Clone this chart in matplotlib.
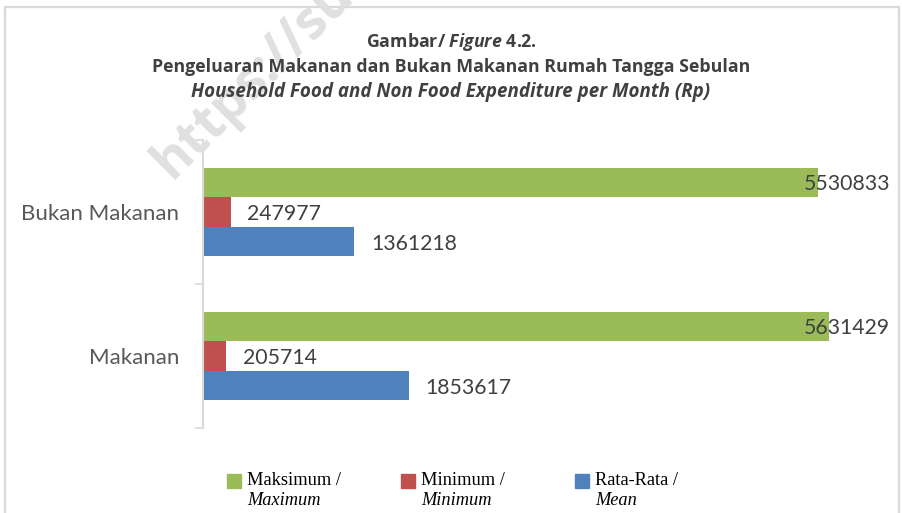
import matplotlib
matplotlib.use("Agg")
import matplotlib.pyplot as plt
import matplotlib.patches as patches
import numpy as np

categories = ["Makanan", "Bukan Makanan"]
series_names = ["Maksimum", "Minimum", "Rata-Rata"]
series_names_en = ["Maximum", "Minimum", "Mean"]
maksimum = [5631429, 5530833]
minimum = [205714, 247977]
rata_rata = [1853617, 1361218]
colors = ["#9BBB59", "#C0504D", "#4F81BD"]

plt.rcParams["mathtext.fontset"] = "custom"
plt.rcParams["mathtext.bfit"] = "Open Sans:italic:bold"
plt.rcParams["mathtext.rm"] = "Open Sans:bold"

W, H = 903, 513
fig = plt.figure(figsize=(W / 100, H / 100), dpi=100)


def fx(px):
    return px / W


def fy(py):
    return 1 - py / H


# chart border
fig.patches.append(patches.Rectangle((fx(5), fy(560)), fx(894), fy(7) - fy(560),
                                     transform=fig.transFigure, fill=False,
                                     edgecolor="#d9d9d9", lw=1.6, zorder=0))

# watermark (cut off at the top edge, as in the source image)
fig.text(fx(172), fy(180), "https://sulut.bps.go.id", rotation=45,
         rotation_mode="anchor", ha="left", va="baseline", fontsize=38,
         fontweight="bold", color="#e0e0e0", family="Open Sans", zorder=0)

ax = fig.add_axes([fx(203), fy(428), fx(890) - fx(203), fy(140) - fy(428)])
ax.patch.set_visible(False)

y = np.arange(len(categories))
h = 0.205
values = [maksimum, minimum, rata_rata]
offsets = [h, 0, -h]
bars = []
for vals, off, c in zip(values, offsets, colors):
    bars.append(ax.barh(y + off, vals, height=h, color=c, zorder=2))

ax.set_xlim(0, 6.18e6)
ax.set_ylim(-0.5, 1.5)
ax.set_xticks([])
for s in ["top", "right", "bottom"]:
    ax.spines[s].set_visible(False)
ax.spines["left"].set_color("#d9d9d9")
ax.spines["left"].set_linewidth(1.5)
ax.set_yticks([-0.5, 0.5, 1.5])
ax.set_yticklabels([])
ax.tick_params(axis="y", which="major", length=6, width=1.2, color="#d9d9d9")
ax.set_yticks(y, minor=True)
ax.set_yticklabels(categories, minor=True, fontsize=16, family="Lato", color="#595959")
ax.tick_params(axis="y", which="minor", length=0, pad=17)

fig.canvas.draw()
renderer = fig.canvas.get_renderer()
ax_right = ax.get_window_extent(renderer).x1
for bc in bars:
    for rect in bc:
        v = rect.get_width()
        yc = rect.get_y() + rect.get_height() / 2
        t = ax.annotate(f"{int(v)}", (v, yc), xytext=(12, 0), textcoords="offset points",
                        ha="left", va="center_baseline", fontsize=15.3, family="Lato",
                        color="#404040", zorder=3, annotation_clip=False)
        bb = t.get_window_extent(renderer)
        if bb.x1 > ax_right:
            # label would leave the plot area: pin it to the right edge
            t.remove()
            ax.annotate(f"{int(v)}", (1.0, yc), xycoords=("axes fraction", "data"),
                        ha="right", va="center_baseline", fontsize=15.3, family="Lato",
                        color="#404040", zorder=3, annotation_clip=False)

# title
tkw = dict(ha="center", va="baseline", fontweight="bold",
           family="Open Sans", color="#404040")
fig.text(fx(451), fy(47), r"Gambar/ $\mathbfit{Figure}$ 4.2.", fontsize=12.8, **tkw)
fig.text(fx(451), fy(72), "Pengeluaran Makanan dan Bukan Makanan Rumah Tangga Sebulan",
         fontsize=12.8, **tkw)
fig.text(fx(451), fy(97), "Household Food and Non Food Expenditure per Month (Rp)",
         fontsize=13.5, fontstyle="italic", **tkw)

# legend
leg_x = [227, 401, 575]
for x0, c, nm, en in zip(leg_x, colors, series_names, series_names_en):
    fig.patches.append(patches.Rectangle((fx(x0), fy(488)), fx(14), fy(474) - fy(488),
                                         transform=fig.transFigure, color=c))
    fig.text(fx(x0 + 20), fy(485), nm + " /", fontsize=13.2, family="Liberation Serif",
             color="black", va="baseline")
    fig.text(fx(x0 + 20), fy(505), en, fontsize=13.2, family="Liberation Serif",
             fontstyle="italic", color="black", va="baseline")

fig.savefig("out.png", dpi=100)
